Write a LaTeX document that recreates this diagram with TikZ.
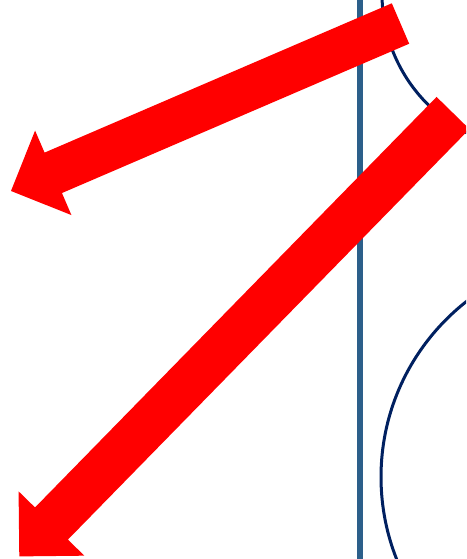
\documentclass[tikz,border=0pt]{standalone}
\usetikzlibrary{calc}
\definecolor{arrowred}{HTML}{FF0000}
\definecolor{barblue}{HTML}{2C5F8A}
\definecolor{arcnavy}{HTML}{002060}
\begin{document}
\begin{tikzpicture}[x=1pt,y=-1pt,
  arcline/.style={draw=arcnavy,line width=3pt},
  barline/.style={draw=barblue,line width=6pt},
  bigarrow/.style={fill=arrowred}]
\useasboundingbox (0,0) rectangle (466,559);
\begin{scope}
\clip (0,0) rectangle (466,559);
\draw[arcline] (538,-6) circle[radius=156];
\draw[arcline] (604,477) circle[radius=223];
\coordinate (bartop) at (360,-5);
\coordinate (barbot) at (360,565);
\draw[barline] (bartop) -- (barbot);
% arrow 1
\coordinate (S1) at (400.5,23.5);
\coordinate (T1) at (11,191);
\coordinate (B1) at ($(T1)!46pt!(S1)$);
\fill[bigarrow] ($(S1)!22pt!90:(T1)$) -- ($(B1)!22pt!-90:(S1)$) -- ($(B1)!46pt!-90:(S1)$)
  -- (T1) -- ($(B1)!46pt!90:(S1)$) -- ($(B1)!22pt!90:(S1)$) -- ($(S1)!22pt!-90:(T1)$) -- cycle;
% arrow 2
\coordinate (S2) at (453,113);
\coordinate (T2) at (19.3,556.4);
\coordinate (B2) at ($(T2)!46pt!(S2)$);
\fill[bigarrow] ($(S2)!23pt!90:(T2)$) -- ($(B2)!23pt!-90:(S2)$) -- ($(B2)!46pt!-90:(S2)$)
  -- (T2) -- ($(B2)!46pt!90:(S2)$) -- ($(B2)!23pt!90:(S2)$) -- ($(S2)!23pt!-90:(T2)$) -- cycle;
\end{scope}
\end{tikzpicture}
\end{document}
